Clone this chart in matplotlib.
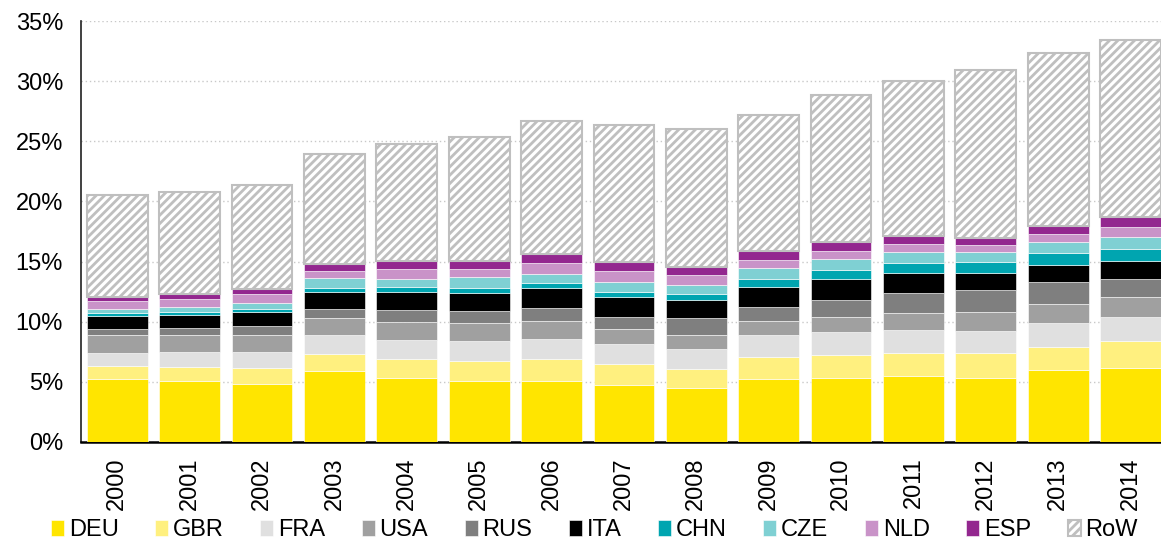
import matplotlib
matplotlib.use("Agg")
import matplotlib.pyplot as plt
import numpy as np

plt.rcParams['font.family'] = ['Liberation Sans', 'DejaVu Sans']
plt.rcParams['hatch.color'] = '#bfbfbf'
plt.rcParams['hatch.linewidth'] = 2.0

years = [str(y) for y in range(2000, 2015)]

# share in % per country
deu = [5.24, 5.07, 4.85, 5.91, 5.30, 5.07, 5.07, 4.72, 4.49, 5.24, 5.35, 5.52, 5.30, 6.02, 6.18]
gbr = [1.11, 1.17, 1.33, 1.44, 1.61, 1.67, 1.81, 1.77, 1.58, 1.81, 1.86, 1.91, 2.08, 1.86, 2.22]
fra = [1.08, 1.25, 1.28, 1.52, 1.55, 1.64, 1.72, 1.66, 1.64, 1.88, 1.94, 1.91, 1.88, 2.00, 1.97]
usa = [1.50, 1.44, 1.47, 1.47, 1.55, 1.50, 1.47, 1.25, 1.19, 1.11, 1.27, 1.42, 1.58, 1.63, 1.69]
rus = [0.47, 0.58, 0.75, 0.73, 0.95, 1.02, 1.05, 1.02, 1.39, 1.17, 1.39, 1.66, 1.78, 1.78, 1.53]
ita = [1.11, 1.08, 1.14, 1.44, 1.55, 1.52, 1.72, 1.67, 1.50, 1.71, 1.78, 1.67, 1.44, 1.41, 1.49]
chn = [0.20, 0.25, 0.24, 0.33, 0.36, 0.42, 0.41, 0.42, 0.55, 0.62, 0.75, 0.83, 0.94, 0.98, 0.97]
cze = [0.36, 0.39, 0.50, 0.83, 0.67, 0.85, 0.75, 0.80, 0.72, 0.94, 0.88, 0.89, 0.80, 0.91, 0.97]
nld = [0.69, 0.69, 0.75, 0.56, 0.85, 0.67, 0.89, 0.89, 0.83, 0.69, 0.69, 0.66, 0.58, 0.67, 0.83]
esp = [0.33, 0.37, 0.42, 0.56, 0.67, 0.67, 0.75, 0.75, 0.67, 0.69, 0.69, 0.66, 0.58, 0.67, 0.83]
row = [8.46, 8.48, 8.65, 9.15, 9.71, 10.34, 11.01, 11.42, 11.45, 11.29, 12.29, 12.90, 14.01, 14.42, 14.75]

series = [
    ("DEU", deu, "#ffe500"),
    ("GBR", gbr, "#fff07f"),
    ("FRA", fra, "#e0e0e0"),
    ("USA", usa, "#a0a0a0"),
    ("RUS", rus, "#7f7f7f"),
    ("ITA", ita, "#000000"),
    ("CHN", chn, "#00a5b0"),
    ("CZE", cze, "#7fd0d3"),
    ("NLD", nld, "#c993c8"),
    ("ESP", esp, "#93278f"),
]

fig = plt.figure(figsize=(11.61, 5.4), dpi=100)
ax = fig.add_axes([0.0698, 0.1815, 0.9302, 0.7795])

x = np.arange(len(years))
bottom = np.zeros(len(years))
handles = []
for name, vals, col in series:
    b = ax.bar(x, vals, 0.84, bottom=bottom, color=col, edgecolor='white',
               linewidth=0.4, label=name, zorder=3)
    handles.append(b)
    bottom += np.array(vals)

b = ax.bar(x, row, 0.84, bottom=bottom, color='white', edgecolor='#bfbfbf',
           hatch='////', linewidth=1.5, label='RoW', zorder=3)
handles.append(b)

ax.set_xlim(-0.5, 14.42)
ax.set_ylim(0, 35)
ax.set_yticks(np.arange(0, 36, 5))
ax.set_yticklabels([f"{v}%" for v in range(0, 36, 5)], fontsize=17)
ax.set_xticks(x)
ax.set_xticklabels(years, rotation=90, fontsize=17)
ax.tick_params(axis='y', length=0, pad=13)
ax.tick_params(axis='x', length=0, pad=11)
ax.yaxis.grid(True, linestyle=(0, (1, 2)), color='#c8c8c8', linewidth=1, zorder=0)

for s in ['top', 'right']:
    ax.spines[s].set_visible(False)
ax.spines['left'].set_color('#202020')
ax.spines['left'].set_linewidth(1.2)
ax.spines['bottom'].set_linewidth(1.8)

fig.legend(handles=handles, loc='center', ncol=11, frameon=False,
           fontsize=17, bbox_to_anchor=(0.512, 0.018), handlelength=0.55,
           handleheight=0.65, handletextpad=0.2, columnspacing=1.55)

fig.savefig("out.png", dpi=100)
